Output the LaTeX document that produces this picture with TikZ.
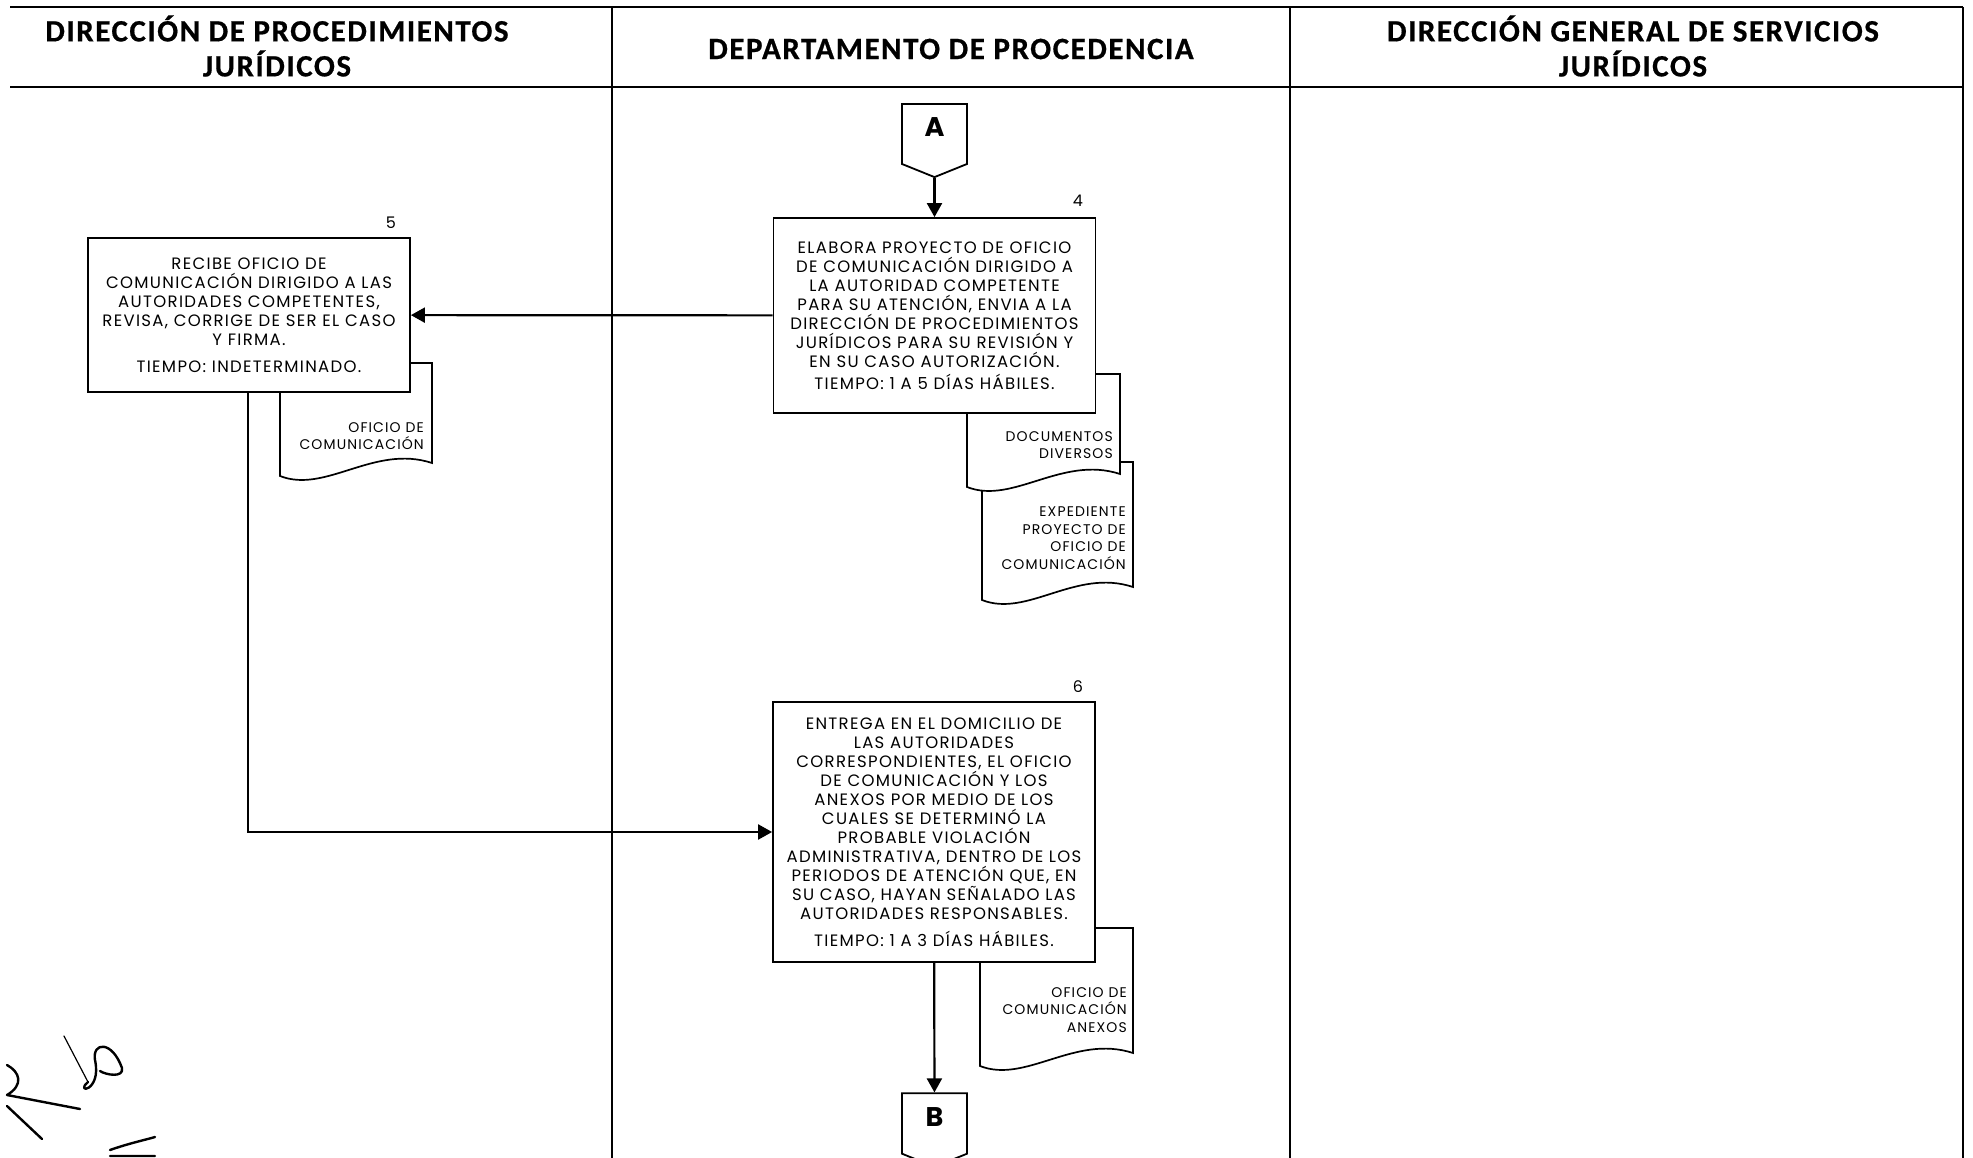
\documentclass[tikz,border=0pt]{standalone}
\usepackage{fontspec}
\setmainfont{Poppins}[LetterSpace=8]
\newfontfamily\cabfont{Carlito}[LetterSpace=5,FakeBold=0.6]
\newfontfamily\numfont{Poppins}
\usetikzlibrary{positioning,arrows.meta,shapes}

\newcommand{\hoja}[4]{% izq, arriba, der, abajo
  \filldraw[fill=white,line width=1.7pt] (#1,#4) -- (#1,#2) -- (#3,#2) -- (#3,#4-13)
  .. controls (#1+0.62*#3-0.62*#1,#4-32) and (#1+0.3*#3-0.3*#1,#4+18) .. (#1,#4) -- cycle;}

\begin{document}
\begin{tikzpicture}[x=1pt,y=-1pt,
  cabecera/.style={font=\cabfont\bfseries\fontsize{31}{35}\selectfont,align=center,inner sep=0pt},
  marco/.style={line width=2.2pt},
  proceso/.style={draw,line width=1.8pt,fill=white,align=center,inner sep=0pt,
    minimum width=322pt,font=\fontsize{16.5}{19}\selectfont},
  conector/.style={draw,line width=1.8pt,fill=white,shape=signal,signal to=south,
    signal pointer angle=136,minimum width=65pt,minimum height=64pt,inner sep=0pt,
    text height=20pt,text depth=14pt,font=\numfont\bfseries\fontsize{27}{27}\selectfont},
  doctexto/.style={align=right,anchor=north east,inner sep=0pt,font=\fontsize{14}{17.5}\selectfont},
  numero/.style={inner sep=0pt,font=\numfont\fontsize{16}{16}\selectfont},
  flecha/.style={line width=2.2pt,-{Triangle[length=14pt,width=15pt]}},
  firma/.style={line width=2.4pt,line cap=round,line join=round}]
\useasboundingbox (0,0) rectangle (1973,1158);

% carriles
\draw[marco] (10,7) -- (1963,7) (10,87) -- (1963,87);
\draw[marco] (612,7) -- (612,1158) (1290,7) -- (1290,1158) (1963,7) -- (1963,1158);
\node[cabecera] (h1) at (277,46) {DIRECCIÓN DE PROCEDIMIENTOS\\JURÍDICOS};
\node[cabecera] (h2) at (951,49) {DEPARTAMENTO DE PROCEDENCIA};
\node[cabecera] (h3) at (1633,46) {DIRECCIÓN GENERAL DE SERVICIOS\\JURÍDICOS};

% documentos
\hoja{280}{363}{432}{476}
\node[doctexto] (d5) at (424,422) {OFICIO DE\\COMUNICACIÓN};
\hoja{982}{462}{1133}{600}
\node[doctexto] (d4b) at (1126,507) {EXPEDIENTE\\PROYECTO DE\\OFICIO DE\\COMUNICACIÓN};
\hoja{967}{374}{1120}{487}
\node[doctexto] (d4a) at (1113,431) {DOCUMENTOS\\DIVERSOS};
\hoja{980}{928}{1133}{1066}
\node[doctexto] (d6) at (1127,987) {OFICIO DE\\COMUNICACIÓN\\ANEXOS};

% actividades
\node[proceso,minimum height=195pt] (b4) at (934.5,315.5) {ELABORA PROYECTO DE OFICIO\\DE COMUNICACIÓN DIRIGIDO A\\LA AUTORIDAD COMPETENTE\\PARA SU ATENCIÓN, ENVIA A LA\\DIRECCIÓN DE PROCEDIMIENTOS\\JURÍDICOS PARA SU REVISIÓN Y\\EN SU CASO AUTORIZACIÓN.\\[3pt]TIEMPO: 1 A 5 DÍAS HÁBILES.};
\node[numero] at (1078,201) {4};
\node[proceso,minimum height=154pt] (b5) at (249,315) {RECIBE OFICIO DE\\COMUNICACIÓN DIRIGIDO A LAS\\AUTORIDADES COMPETENTES,\\REVISA, CORRIGE DE SER EL CASO\\Y FIRMA.\\[8pt]TIEMPO: INDETERMINADO.};
\node[numero] at (391,223) {5};
\node[proceso,minimum height=260pt] (b6) at (934,832) {ENTREGA EN EL DOMICILIO DE\\LAS AUTORIDADES\\CORRESPONDIENTES, EL OFICIO\\DE COMUNICACIÓN Y LOS\\ANEXOS POR MEDIO DE LOS\\CUALES SE DETERMINÓ LA\\PROBABLE VIOLACIÓN\\ADMINISTRATIVA, DENTRO DE LOS\\PERIODOS DE ATENCIÓN QUE, EN\\SU CASO, HAYAN SEÑALADO LAS\\AUTORIDADES RESPONSABLES.\\[8pt]TIEMPO: 1 A 3 DÍAS HÁBILES.};
\node[numero] at (1078,687) {6};

% conectores
\node[conector] (A) at (934.5,134) {A};
\node[conector] (B) at (934.5,1123.5) {B};

\draw[flecha] (A.south) -- (b4);
\draw[flecha] (b4) -- (b5);
\draw[flecha] (b5.south -| 248,0) |- (b6.west);
\draw[flecha] (b6) -- (B);

% firma
\draw[firma] (7,1065) .. controls (20,1072) and (24,1085) .. (7,1095) -- (80,1109);
\draw[firma] (7,1106) -- (42,1139);
\draw[firma,line width=1.2pt] (64,1036) -- (88,1082);
\draw[firma] (88,1082) .. controls (74,1094) and (102,1092) .. (95,1060)
  .. controls (92,1042) and (112,1040) .. (122,1068) .. controls (124,1078) and (106,1075) .. (100,1071);
\draw[firma] (110,1150) .. controls (130,1143) and (145,1140) .. (155,1137) (110,1156) -- (155,1156);
\end{tikzpicture}
\end{document}
